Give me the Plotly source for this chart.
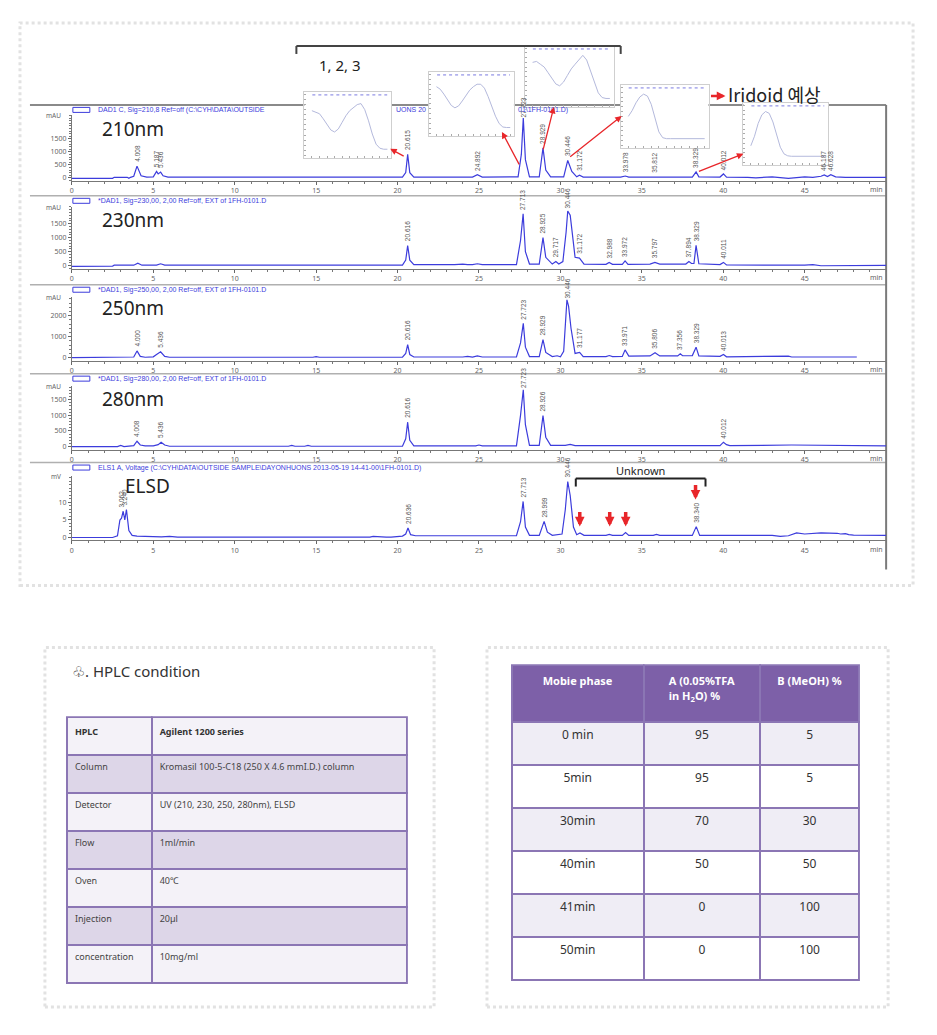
import numpy as np
import plotly.graph_objects as go

W, H = 937, 1035
def fx(x): return x / W
def fy(y): return 1 - y / H

BLUE = '#3c3cdc'
RED = '#e8262a'
PURPLE = '#8b76b4'

# ---------------- chromatogram data (time [min], signal) ----------------
t_210 = [0, 2.5, 2.6, 3.4, 3.5, 3.6, 3.8, 4.0, 4.25, 4.6, 5.0, 5.2, 5.3, 5.45, 5.6, 5.9, 20.3, 20.5, 20.62, 20.75, 21.0,
         24.6, 24.9, 25.2, 27.4, 27.6, 27.72, 27.85, 28.1, 28.7, 28.93, 29.1, 29.4, 30.2, 30.45, 30.7, 31.0, 31.17, 31.4,
         33.7, 33.98, 34.2, 35.6, 35.81, 36.0, 38.1, 38.33, 38.5, 39.8, 40.01, 40.2, 41.5, 42.0, 43.0, 43.6, 44.0, 45.0,
         45.5, 46.0, 46.2, 46.4, 46.6, 46.9, 47.5, 50]
y_210 = [-20, -20, 20, 20, -20, 20, 60, 450, 80, 30, 40, 250, 150, 220, 80, 30, 30, 200, 900, 200, 30,
         30, 120, 30, 40, 900, 2300, 700, 40, 40, 1150, 300, 40, 40, 670, 250, 40, 100, 30,
         30, 70, 30, 30, 45, 30, 30, 230, 40, 30, 150, 30, 20, 0, 40, 10, -20, 40,
         20, 60, 110, 50, 120, 40, 20, 20]

t_230 = [0, 2.5, 2.6, 3.8, 4.05, 4.3, 5.2, 5.45, 5.7, 20.3, 20.5, 20.62, 20.75, 21.0, 23.5, 24.0, 24.3, 24.6, 24.9, 25.2,
         27.3, 27.55, 27.71, 27.85, 28.1, 28.7, 28.93, 29.1, 29.5, 29.72, 29.9, 30.15, 30.35, 30.45, 30.6, 30.9, 31.17,
         31.45, 32.8, 32.99, 33.2, 33.8, 33.97, 34.15, 35.5, 35.8, 36.1, 37.7, 37.89, 38.05, 38.2, 38.33, 38.5, 39.8,
         40.01, 40.2, 45.0, 45.5, 46.0, 48, 50]
y_230 = [-20, -10, 20, 20, 90, 20, 20, 70, 20, 20, 200, 720, 200, 40, 40, 60, 40, 40, 70, 40,
         40, 900, 1850, 500, 60, 60, 1000, 300, 60, 150, 60, 150, 1200, 1950, 1800, 300, 270,
         60, 50, 120, 50, 50, 170, 50, 60, 120, 60, 60, 150, 80, 80, 730, 70, 40,
         120, 30, 20, 40, 0, 10, 10]

t_250 = [0, 3.3, 3.8, 4.0, 4.2, 4.5, 5.0, 5.2, 5.45, 5.7, 6.0, 14.8, 15.0, 15.2, 20.3, 20.5, 20.62, 20.75, 21.0,
         24.0, 24.3, 24.6, 24.9, 25.2, 27.3, 27.55, 27.72, 27.85, 28.1, 28.7, 28.93, 29.1, 29.5, 29.8, 30.0, 30.2,
         30.4, 30.5, 30.65, 30.9, 31.18, 31.4, 32.8, 33.0, 33.2, 33.8, 33.97, 34.2, 35.5, 35.81, 36.1, 37.2, 37.36,
         37.5, 37.8, 38.1, 38.33, 38.5, 39.8, 40.01, 40.2, 43.8, 44.0, 44.2, 48.2]
y_250 = [0, 0, 30, 320, 60, 20, 40, 150, 280, 60, 20, 20, 50, 20, 20, 200, 615, 150, 30,
         30, 60, 30, 80, 30, 30, 700, 1630, 500, 50, 50, 860, 250, 50, 90, 40, 300,
         2750, 2450, 1400, 200, 250, 50, 50, 100, 50, 60, 370, 70, 80, 230, 80, 80, 180,
         90, 90, 100, 500, 80, 60, 150, 40, 40, 70, 30, 30]

t_280 = [0, 2.8, 3.0, 3.2, 3.8, 4.0, 4.2, 4.5, 5.0, 5.3, 5.48, 5.7, 6.0, 13.3, 13.5, 13.7, 14.3, 14.5, 14.7, 20.3, 20.5,
         20.62, 20.75, 21.0, 24.8, 25.0, 25.2, 27.3, 27.55, 27.72, 27.85, 28.1, 28.7, 28.93, 29.1, 29.4, 30.3, 30.6,
         30.9, 39.8, 40.01, 40.2, 40.4, 44.0, 44.2, 50]
y_280 = [0, 0, 40, 0, 30, 170, 50, 20, 20, 60, 140, 50, 10, 10, 40, 10, 10, 40, 10, 10, 250,
         780, 200, 20, 20, 50, 20, 20, 1000, 1820, 700, 40, 40, 990, 300, 40, 40, 70,
         30, 30, 140, 60, 30, 30, 50, 20]

t_elsd = [0, 2.5, 2.8, 2.95, 3.05, 3.15, 3.25, 3.35, 3.5, 3.7, 4.0, 4.5, 5.5, 6.0, 6.5, 18.3, 18.5, 19.3, 19.6, 20.3,
          20.5, 20.64, 20.8, 21.1, 27.3, 27.55, 27.71, 27.85, 28.1, 28.7, 29.0, 29.2, 29.5, 30.1, 30.3, 30.45, 30.6,
          30.8, 31.0, 31.2, 31.45, 32.8, 33.0, 33.2, 33.8, 34.0, 34.2, 35.7, 35.9, 36.1, 38.1, 38.34, 38.55, 43.0,
          43.5, 44.0, 44.5, 45.0, 46.0, 47.0, 47.2, 47.5, 47.7, 48.0, 50]
y_elsd = [0, 0, 0.5, 5.0, 5.5, 7.5, 5.0, 8.0, 2.0, 0.6, 0.4, 0.3, 0.2, 0.3, 0.1, 0.1, 0.3, 0.1, 0.1, 0.4,
          1.0, 2.7, 0.8, 0.5, 0.5, 4.5, 10.3, 3.0, 0.6, 0.6, 4.6, 1.5, 0.6, 1.0, 8.0, 16.0, 12.0,
          3.0, 0.8, 1.3, 0.6, 0.6, 0.9, 0.6, 0.6, 1.4, 0.6, 0.6, 0.9, 0.6, 0.6, 3.1, 0.6, 0.6,
          0.3, 0.5, 1.3, 1.0, 1.3, 1.2, 1.0, 1.1, 0.8, 0.7, 0.6]

# peak retention-time labels
labt_210 = [4.008, 5.187, 5.436, 20.615, 24.892, 27.723, 28.929, 30.446, 31.172, 33.978, 35.812, 38.329, 40.012, 46.187, 46.628]
labt_230 = [20.616, 27.713, 28.925, 29.717, 30.446, 31.172, 32.988, 33.972, 35.797, 37.894, 38.329, 40.011]
labt_250 = [4.000, 5.436, 20.616, 27.723, 28.929, 30.446, 31.177, 33.971, 35.806, 37.356, 38.329, 40.013]
labt_280 = [4.008, 5.436, 20.616, 27.723, 28.926, 40.012]
labt_elsd = [3.062, 3.240, 20.636, 27.713, 28.999, 30.446, 38.340]

x_ticks = [0, 5, 10, 15, 20, 25, 30, 35, 40, 45]

# ---------------- UV spectra (insets) ----------------
wl = [200, 210, 220, 230, 240, 250, 260, 270, 280, 290, 300, 310, 320, 330, 340, 350, 360, 370, 380, 390, 400]
spec1 = [0.78, 0.75, 0.72, 0.62, 0.50, 0.40, 0.36, 0.42, 0.55, 0.68, 0.78, 0.84, 0.90, 0.92, 0.80, 0.58, 0.32, 0.12, 0.04, 0.02, 0.02]
spec2 = [0.85, 0.80, 0.70, 0.58, 0.47, 0.42, 0.46, 0.56, 0.68, 0.78, 0.85, 0.90, 0.90, 0.82, 0.65, 0.45, 0.25, 0.10, 0.03, 0.02, 0.02]
spec3 = [0.80, 0.82, 0.76, 0.70, 0.58, 0.45, 0.34, 0.30, 0.38, 0.52, 0.66, 0.76, 0.86, 0.95, 0.85, 0.62, 0.38, 0.15, 0.05, 0.03, 0.03]
spec4 = [0.50, 0.62, 0.78, 0.90, 0.96, 0.92, 0.75, 0.45, 0.18, 0.06, 0.04, 0.04, 0.04, 0.04, 0.04, 0.04, 0.04, 0.04, 0.04, 0.04, 0.04]
spec5 = [0.25, 0.45, 0.72, 0.90, 0.97, 0.93, 0.75, 0.48, 0.22, 0.08, 0.04, 0.03, 0.03, 0.03, 0.03, 0.03, 0.03, 0.03, 0.03, 0.03, 0.03]

# ---------------- tables ----------------
hplc_param = ['HPLC', 'Column', 'Detector', 'Flow', 'Oven', 'Injection', 'concentration']
hplc_value = ['Agilent 1200 series', 'Kromasil 100-5-C18 (250 X 4.6 mmI.D.) column', 'UV (210, 230, 250, 280nm), ELSD',
              '1ml/min', '40℃', '20µl', '10mg/ml']
phase_time = ['0 min', '5min', '30min', '40min', '41min', '50min']
phase_A = ['95', '95', '70', '50', '0', '0']
phase_B = ['5', '5', '30', '50', '100', '100']

# ---------------- figure ----------------
fig = go.Figure()
layout = {}
annotations = []
shapes = []

panels = [
    dict(name='210nm', t=t_210, y=y_210, labs=labt_210, rng=[-115, 2420], tv=[0, 500, 1000, 1500], unit='mAU',
         top=107, bot=173, hdr=102, title=121, minor=100, tx=90),
    dict(name='230nm', t=t_230, y=y_230, labs=labt_230, rng=[-107, 2100], tv=[0, 500, 1000, 1500], unit='mAU',
         top=199, bot=261, hdr=193, title=212, minor=100, tx=90,
         header='*DAD1, Sig=230,00, 2,00 Ref=off, EXT of 1FH-0101.D'),
    dict(name='250nm', t=t_250, y=y_250, labs=labt_250, rng=[-143, 2900], tv=[0, 1000, 2000], unit='mAU',
         top=289, bot=353, hdr=282, title=300, minor=200, tx=90,
         header='*DAD1, Sig=250,00, 2,00 Ref=off, EXT of 1FH-0101.D'),
    dict(name='280nm', t=t_280, y=y_280, labs=labt_280, rng=[-96, 1950], tv=[0, 500, 1000, 1500], unit='mAU',
         top=378, bot=442, hdr=371, title=391, minor=100, tx=90,
         header='*DAD1, Sig=280,00, 2,00 Ref=off, EXT of 1FH-0101.D'),
    dict(name='ELSD', t=t_elsd, y=y_elsd, labs=labt_elsd, rng=[-0.86, 17.7], tv=[0, 5, 10], unit='mV',
         top=468, bot=533, hdr=460, title=478, minor=1, tx=113,
         header='ELS1 A, Voltage (C:\\CYH\\DATA\\OUTSIDE SAMPLE\\DAYONHUONS 2013-05-19 14-41-00\\1FH-0101.D)'),
]

X0, X1 = 62, 878
for i, p in enumerate(panels):
    n = i + 1
    xa = 'x' if n == 1 else f'x{n}'
    ya = 'y' if n == 1 else f'y{n}'
    fig.add_trace(go.Scatter(x=p['t'], y=p['y'], mode='lines', line=dict(color=BLUE, width=1.2),
                             xaxis=xa, yaxis=ya, hoverinfo='skip', showlegend=False))
    layout['xaxis' if n == 1 else f'xaxis{n}'] = dict(
        domain=[fx(X0), fx(X1)], anchor=ya, range=[0, 50], tickvals=x_ticks, ticks='outside', ticklen=3,
        tickcolor='#666', showline=True, linecolor='#777', linewidth=1, showgrid=False, zeroline=False,
        tickfont=dict(size=7, color='#666'), minor=dict(dtick=1, ticks='outside', ticklen=2, tickcolor='#777'),
        fixedrange=True)
    layout['yaxis' if n == 1 else f'yaxis{n}'] = dict(
        domain=[fy(p['bot']), fy(p['top'])], anchor=xa, range=p['rng'], tickvals=p['tv'], ticks='outside',
        ticklen=3, tickcolor='#666', showline=True, linecolor='#777', linewidth=1, showgrid=False, zeroline=False,
        tickfont=dict(size=7, color='#666'), minor=dict(dtick=p['minor'], ticks='outside', ticklen=1.5, tickcolor='#777'),
        fixedrange=True)
    annotations.append(dict(x=fx(53), y=fy(p['top'] + 1), xref='paper', yref='paper', text=p['unit'],
                            showarrow=False, xanchor='right', yanchor='middle', font=dict(size=6.5, color='#666')))
    annotations.append(dict(x=fx(877), y=fy(p['bot'] + 9), xref='paper', yref='paper', text='min',
                            showarrow=False, xanchor='right', yanchor='middle', font=dict(size=7, color='#666')))
    annotations.append(dict(x=fx(p['tx']), y=fy(p['title']), xref='paper', yref='paper',
                            text=p['name'], showarrow=False, xanchor='left', yanchor='middle',
                            font=dict(size=19, color='#222', family='Noto Sans')))
    hy = p['hdr']
    shapes.append(dict(type='rect', xref='paper', yref='paper', x0=fx(63), x1=fx(80), y0=fy(hy + 2.5), y1=fy(hy - 2.5),
                       line=dict(color=BLUE, width=1), fillcolor='white', layer='above'))
    if 'header' in p:
        annotations.append(dict(x=fx(86), y=fy(hy), xref='paper', yref='paper', text=p['header'], showarrow=False,
                                xanchor='left', yanchor='middle', font=dict(size=7, color=BLUE, family='Liberation Sans')))
    tt = np.array(p['t'], dtype=float)
    vv = np.array(p['y'], dtype=float)
    for lt in p['labs']:
        m = (tt > lt - 0.2) & (tt < lt + 0.2)
        apex = vv[m].max() if m.any() else 0
        ylab = min(apex, p['rng'][1] * 0.9)
        annotations.append(dict(x=lt, y=ylab, xref=xa, yref=ya, text=f'{lt:.3f}', showarrow=False, textangle=-90,
                                xanchor='center', yanchor='bottom', yshift=2,
                                font=dict(size=6.5, color='#555', family='Liberation Sans')))

# 210 header split around the insets
hdr_parts = [(86, 'DAD1 C, Sig=210,8 Ref=off (C:\\CYH\\DATA\\OUTSIDE'), (385, 'UONS 20'), (507, '01\\1FH-0101.D)')]
for xp, txt in hdr_parts:
    annotations.append(dict(x=fx(xp), y=fy(102), xref='paper', yref='paper', text=txt, showarrow=False,
                            xanchor='left', yanchor='middle', font=dict(size=7, color=BLUE, family='Liberation Sans')))

# panel frame lines
shapes.append(dict(type='line', xref='paper', yref='paper', x0=fx(20), x1=fx(878), y0=fy(97), y1=fy(97),
                   line=dict(color='#8a8a8a', width=2), layer='below'))
for ly in [188, 277, 366, 455]:
    shapes.append(dict(type='line', xref='paper', yref='paper', x0=fx(20), x1=fx(878), y0=fy(ly), y1=fy(ly),
                       line=dict(color='#b0b0b0', width=1.5), layer='below'))
shapes.append(dict(type='line', xref='paper', yref='paper', x0=fx(878), x1=fx(878), y0=fy(97), y1=fy(562),
                   line=dict(color='#7a7a7a', width=2), layer='below'))

# ---- inset spectra ----
boxes = [(295, 382, 84, 150, spec1), (420, 505, 64, 128, spec2), (516, 605, 38, 99, spec3),
         (612, 700, 77, 140, spec4), (735, 820, 95, 157, spec5)]
for k, (bx0, bx1, by0, by1, sp) in enumerate(boxes):
    n = 6 + k
    fig.add_trace(go.Scatter(x=wl, y=sp, mode='lines', line=dict(color='#b4b9dc', width=1),
                             xaxis=f'x{n}', yaxis=f'y{n}', hoverinfo='skip', showlegend=False))
    layout[f'xaxis{n}'] = dict(domain=[fx(bx0), fx(bx1)], anchor=f'y{n}', range=[180, 410],
                               showticklabels=False, ticks='inside', ticklen=2, tickcolor='#aaa', dtick=20,
                               showline=True, linecolor='#cfcfcf', mirror=True, showgrid=False, zeroline=False,
                               fixedrange=True)
    layout[f'yaxis{n}'] = dict(domain=[fy(by1), fy(by0)], anchor=f'x{n}', range=[-0.15, 1.15],
                               showticklabels=False, ticks='inside', ticklen=2, tickcolor='#aaa', dtick=0.1,
                               showline=True, linecolor='#cfcfcf', mirror=True, showgrid=False, zeroline=False,
                               fixedrange=True)
    shapes.append(dict(type='line', xref='paper', yref='paper', x0=fx(bx0 + 8), x1=fx(bx1 - 4), y0=fy(by0 + 3),
                       y1=fy(by0 + 3), line=dict(color='#7a7ae0', width=1, dash='dot'), layer='above'))

# red arrows from peaks to insets (head at box, tail at peak)
arrows = [((381, 141), (396, 149)), ((493, 124), (511, 158)), ((545, 99), (534, 143)),
          ((613, 108), (560, 150)), ((735, 146), (689, 164))]
for (hx, hy_), (tx, ty) in arrows:
    annotations.append(dict(x=fx(hx), y=fy(hy_), xref='paper', yref='paper', ax=tx - hx, ay=ty - hy_,
                            axref='pixel', ayref='pixel', text='', showarrow=True, arrowhead=2, arrowsize=1,
                            arrowwidth=1.3, arrowcolor=RED))

# bracket "1, 2, 3"
shapes += [
    dict(type='line', xref='paper', yref='paper', x0=fx(287), x1=fx(612), y0=fy(38), y1=fy(38), line=dict(color='#444', width=2)),
    dict(type='line', xref='paper', yref='paper', x0=fx(287), x1=fx(287), y0=fy(38), y1=fy(46), line=dict(color='#444', width=2)),
    dict(type='line', xref='paper', yref='paper', x0=fx(612), x1=fx(612), y0=fy(38), y1=fy(46), line=dict(color='#444', width=2)),
]
annotations.append(dict(x=fx(308), y=fy(57), xref='paper', yref='paper', text='1, 2, 3', showarrow=False,
                        xanchor='left', yanchor='middle', font=dict(size=15, color='#222', family='Noto Sans')))
# Iridoid
annotations.append(dict(x=fx(717), y=fy(88), xref='paper', yref='paper', ax=-16, ay=0, axref='pixel', ayref='pixel',
                        text='', showarrow=True, arrowhead=2, arrowsize=0.7, arrowwidth=2.5, arrowcolor=RED))
annotations.append(dict(x=fx(718), y=fy(86), xref='paper', yref='paper', text='Iridoid 예상', showarrow=False,
                        xanchor='left', yanchor='middle', font=dict(size=18, color='#222', family='Noto Sans CJK KR')))

# ELSD "Unknown" bracket and arrows
shapes += [
    dict(type='line', xref='paper', yref='paper', x0=fx(567), x1=fx(697), y0=fy(471), y1=fy(471), line=dict(color='#222', width=2)),
    dict(type='line', xref='paper', yref='paper', x0=fx(567), x1=fx(567), y0=fy(471), y1=fy(479), line=dict(color='#222', width=2)),
    dict(type='line', xref='paper', yref='paper', x0=fx(697), x1=fx(697), y0=fy(471), y1=fy(479), line=dict(color='#222', width=2)),
]
annotations.append(dict(x=fx(632), y=fy(463), xref='paper', yref='paper', text='Unknown', showarrow=False,
                        xanchor='center', yanchor='middle', font=dict(size=11, color='#222', family='Noto Sans')))
for ax_, y0_, y1_ in [(571, 503, 519), (601, 503, 519), (617, 503, 519), (687, 476, 492)]:
    annotations.append(dict(x=fx(ax_), y=fy(y1_), xref='paper', yref='paper', ax=0, ay=-(y1_ - y0_),
                            axref='pixel', ayref='pixel', text='', showarrow=True, arrowhead=2, arrowsize=0.55,
                            arrowwidth=3.5, arrowcolor=RED))

# card frames
for (cx0, cy0, cx1, cy1) in [(10, 15, 905, 578), (35, 640, 425, 1000), (478, 640, 880, 1000)]:
    shapes.append(dict(type='rect', xref='paper', yref='paper', x0=fx(cx0), x1=fx(cx1), y0=fy(cy1), y1=fy(cy0),
                       line=dict(color='#e2e2e2', width=3, dash='dot'), fillcolor='rgba(0,0,0,0)', layer='below'))

# ---- tables ----
annotations.append(dict(x=fx(60), y=fy(664), xref='paper', yref='paper', text='♧. HPLC condition', showarrow=False,
                        xanchor='left', yanchor='middle', font=dict(size=15, color='#333', family='Noto Sans')))
left_fill = ['#ddd6e8', '#f4f2f8', '#ddd6e8', '#f4f2f8', '#ddd6e8', '#f4f2f8']
fig.add_trace(go.Table(
    domain=dict(x=[fx(57), fx(398)], y=[fy(980), fy(710)]),
    columnwidth=[85, 256],
    header=dict(values=[f'<b>{hplc_param[0]}</b>', f'<b>{hplc_value[0]}</b>'], fill_color='#f4f2f8',
                line=dict(color=PURPLE, width=2), align='left', height=38,
                font=dict(size=9, color='#333', family='Noto Sans')),
    cells=dict(values=[hplc_param[1:], hplc_value[1:]], fill_color=[left_fill, left_fill],
               line=dict(color=PURPLE, width=2), align='left', height=38,
               font=dict(size=9, color='#444', family='Noto Sans'))))

right_fill = ['#efedf5', '#ffffff', '#efedf5', '#ffffff', '#efedf5', '#ffffff']
fig.add_trace(go.Table(
    domain=dict(x=[fx(503), fx(851)], y=[fy(980), fy(658)]),
    columnwidth=[132, 117, 99],
    header=dict(values=['<b>Mobie phase</b>', '<b>A (0.05%TFA<br>in H<sub>2</sub>O) %</b>', '<b>B (MeOH) %</b>'],
                fill_color='#7d60a8', line=dict(color=PURPLE, width=2), align='center', height=57,
                font=dict(size=11, color='white', family='Noto Sans')),
    cells=dict(values=[phase_time, phase_A, phase_B], fill_color=[right_fill] * 3,
               line=dict(color=PURPLE, width=2), align='center', height=43,
               font=dict(size=12, color='#333', family='Noto Sans'))))

fig.update_layout(width=W, height=H, margin=dict(l=0, r=0, t=0, b=0), paper_bgcolor='white', plot_bgcolor='white',
                  showlegend=False, font=dict(family='Noto Sans'), annotations=annotations, shapes=shapes, **layout)
fig.write_html('out.html')
